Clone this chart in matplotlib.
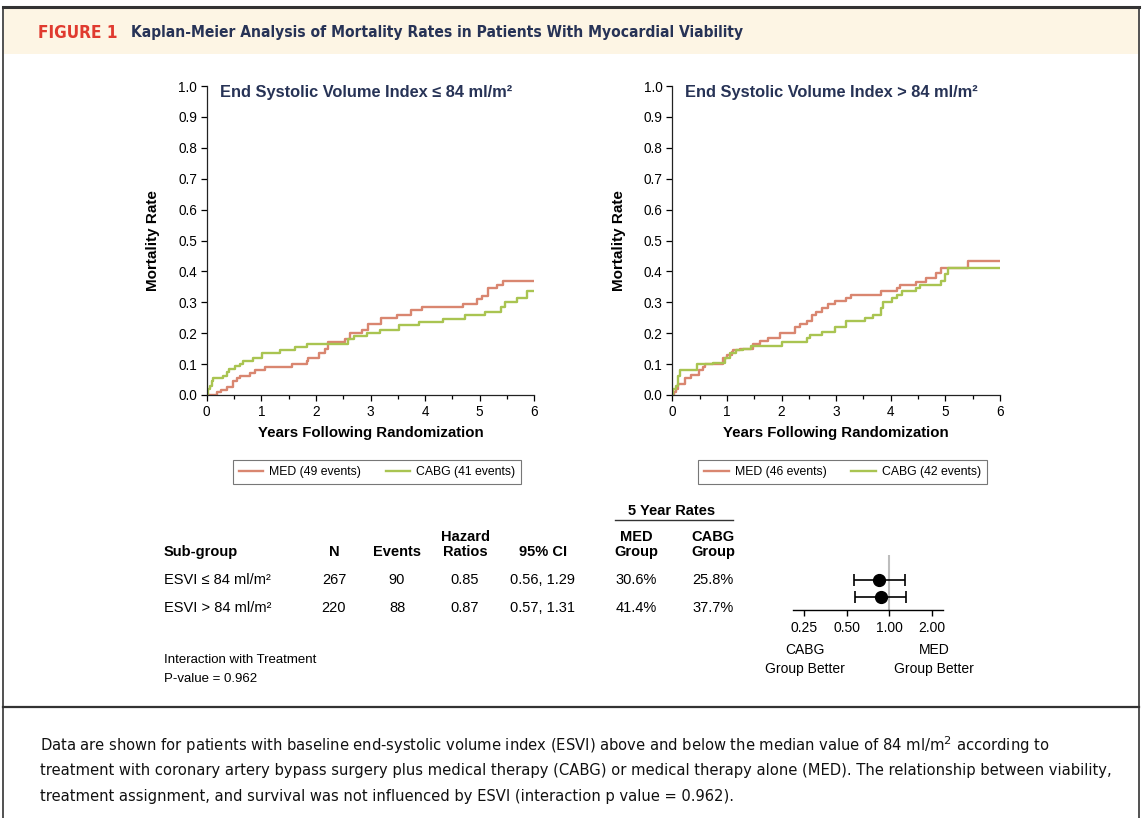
import numpy as np
import matplotlib
matplotlib.use("Agg")
import matplotlib.pyplot as plt
from matplotlib.lines import Line2D
from matplotlib.patches import Rectangle
from matplotlib import font_manager

# dados (tempo em anos, taxa de mortalidade)
left_med_t = [0, 0.18, 0.27, 0.38, 0.49, 0.55, 0.61, 0.79, 0.89, 1.07, 1.56, 1.83, 1.86, 2.05, 2.17,
              2.23, 2.53, 2.63, 2.84, 2.96, 3.19, 3.48, 3.75, 3.94, 4.69, 4.95, 5.04, 5.16, 5.31, 5.42, 6.0]
left_med_y = [0, 0.01, 0.015, 0.025, 0.045, 0.055, 0.06, 0.07, 0.08, 0.09, 0.10, 0.11, 0.12, 0.135, 0.15,
              0.17, 0.18, 0.20, 0.21, 0.23, 0.25, 0.26, 0.275, 0.285, 0.295, 0.31, 0.32, 0.345, 0.355, 0.37, 0.37]

left_cabg_t = [0, 0.03, 0.06, 0.09, 0.12, 0.29, 0.38, 0.40, 0.52, 0.61, 0.67, 0.85, 1.01, 1.34, 1.62,
               1.83, 2.59, 2.69, 2.93, 3.17, 3.53, 3.88, 4.33, 4.73, 5.10, 5.39, 5.46, 5.68, 5.86, 6.0]
left_cabg_y = [0, 0.02, 0.03, 0.045, 0.055, 0.06, 0.075, 0.085, 0.095, 0.10, 0.11, 0.12, 0.135, 0.145, 0.155,
               0.165, 0.18, 0.19, 0.20, 0.21, 0.225, 0.235, 0.245, 0.26, 0.27, 0.285, 0.30, 0.315, 0.335, 0.335]

right_med_t = [0, 0.03, 0.06, 0.11, 0.23, 0.35, 0.49, 0.56, 0.60, 0.93, 1.0, 1.09, 1.12, 1.24, 1.47,
               1.61, 1.76, 1.97, 2.25, 2.34, 2.46, 2.55, 2.64, 2.74, 2.86, 2.98, 3.19, 3.28, 3.83, 4.11,
               4.17, 4.46, 4.65, 4.83, 4.92, 5.42, 6.0]
right_med_y = [0, 0.01, 0.02, 0.035, 0.055, 0.065, 0.08, 0.09, 0.10, 0.12, 0.13, 0.14, 0.145, 0.15, 0.165,
               0.175, 0.185, 0.20, 0.22, 0.23, 0.24, 0.26, 0.27, 0.28, 0.295, 0.305, 0.315, 0.325, 0.335, 0.345,
               0.355, 0.365, 0.38, 0.395, 0.41, 0.435, 0.435]

right_cabg_t = [0, 0.02, 0.06, 0.11, 0.14, 0.45, 0.75, 0.96, 1.06, 1.17, 1.29, 1.45, 2.0, 2.46, 2.52,
                2.74, 2.98, 3.19, 3.53, 3.68, 3.83, 3.86, 4.02, 4.11, 4.2, 4.46, 4.54, 4.92, 4.99, 5.05, 6.0]
right_cabg_y = [0, 0.02, 0.03, 0.06, 0.08, 0.10, 0.105, 0.12, 0.135, 0.145, 0.15, 0.16, 0.17, 0.185, 0.195,
                0.205, 0.22, 0.24, 0.25, 0.26, 0.28, 0.30, 0.315, 0.325, 0.335, 0.345, 0.355, 0.37, 0.39, 0.41, 0.41]

panel_titles = ["End Systolic Volume Index \u2264 84 ml/m\u00b2", "End Systolic Volume Index > 84 ml/m\u00b2"]
med_labels = ["MED (49 events)", "MED (46 events)"]
cabg_labels = ["CABG (41 events)", "CABG (42 events)"]

# tabela
subgroups = ["ESVI \u2264 84 ml/m\u00b2", "ESVI > 84 ml/m\u00b2"]
n_vals = [267, 220]
events = [90, 88]
hr = [0.85, 0.87]
ci_lo = [0.56, 0.57]
ci_hi = [1.29, 1.31]
med_rate = ["30.6%", "41.4%"]
cabg_rate = ["25.8%", "37.7%"]
forest_ticks = [0.25, 0.50, 1.00, 2.00]

# cores
RED = "#d98670"
GREEN = "#a9c451"
NAVY = "#273356"

W, H = 1142, 818
plt.rcParams['font.family'] = ['Liberation Sans', 'DejaVu Sans']

fig = plt.figure(figsize=(W / 100, H / 100), dpi=100)
renderer = fig.canvas.get_renderer()

def fx(x):
    return x / W

def fy(y):
    return 1 - y / H

# ajusta o tamanho da fonte para caber na largura alvo (em pixels)
def fit(t, largura):
    w = t.get_window_extent(renderer).width
    t.set_fontsize(t.get_fontsize() * largura / w)

# existe DejaVu condensada?
has_cond = any(f.name == 'DejaVu Sans' and f.stretch == 'condensed'
               for f in font_manager.fontManager.ttflist)
cond_kw = dict(family='DejaVu Sans', fontstretch='condensed') if has_cond else dict(family='Liberation Sans')

# moldura e cabecalho
fig.add_artist(Rectangle((fx(4), fy(54)), fx(1134), 46 / H, transform=fig.transFigure,
                         facecolor="#fdf5e4", edgecolor="none", zorder=0))
fig.add_artist(Line2D([fx(3), fx(1139)], [fy(7), fy(7)], color="#333333", lw=2.2))
fig.add_artist(Line2D([fx(3), fx(3)], [fy(7), fy(818)], color="#333333", lw=1.2))
fig.add_artist(Line2D([fx(1139), fx(1139)], [fy(7), fy(818)], color="#333333", lw=1.2))
fig.add_artist(Line2D([fx(3), fx(1139)], [fy(707), fy(707)], color="#333333", lw=1.6))

t = fig.text(fx(38), fy(33), "FIGURE 1", color="#e03a2f", fontsize=11, fontweight="bold",
             va="center", **cond_kw)
fit(t, 80)
t = fig.text(fx(131), fy(33), "Kaplan-Meier Analysis of Mortality Rates in Patients With Myocardial Viability",
             color=NAVY, fontsize=11.5, fontweight="bold", va="center", **cond_kw)
fit(t, 619)

# paineis Kaplan-Meier
panels = [
    (206.7, left_med_t, left_med_y, left_cabg_t, left_cabg_y),
    (672.3, right_med_t, right_med_y, right_cabg_t, right_cabg_y),
]
for i, (x0, mt, my, ct, cy) in enumerate(panels):
    ax = fig.add_axes([fx(x0), fy(395), 327.6 / W, 309 / H])
    ax.step(mt, my, where="post", color=RED, lw=1.7, label=med_labels[i])
    ax.step(ct, cy, where="post", color=GREEN, lw=1.7, label=cabg_labels[i])
    ax.set_xlim(0, 6)
    ax.set_ylim(0, 1.0)
    ax.set_xticks(range(0, 7))
    ax.set_xticks(np.arange(0.5, 6, 1), minor=True)
    ax.set_yticks(np.arange(0, 1.01, 0.1))
    ax.set_yticklabels([f"{v:.1f}" for v in np.arange(0, 1.01, 0.1)])
    ax.spines["top"].set_visible(False)
    ax.spines["right"].set_visible(False)
    for s in ["left", "bottom"]:
        ax.spines[s].set_color("#222222")
        ax.spines[s].set_linewidth(0.9)
    ax.tick_params(axis="both", which="major", length=4, width=0.9, labelsize=9.8, pad=3)
    ax.tick_params(axis="x", which="minor", length=3, width=0.9)
    ax.set_ylabel("Mortality Rate", fontsize=11, fontweight="bold", labelpad=13)
    ax.set_xlabel("Years Following Randomization", fontsize=10.8, fontweight="bold", labelpad=5)
    ax.text(0.04, 0.98, panel_titles[i], transform=ax.transAxes, fontsize=11.8, fontweight="bold",
            color=NAVY, va="center", ha="left")
    leg = ax.legend(loc="upper center", bbox_to_anchor=(0.52, -0.19), ncol=2, fontsize=8.8,
                    frameon=True, fancybox=False, edgecolor="#555555", handlelength=2.0,
                    columnspacing=2.0, borderpad=0.5, handletextpad=0.5)
    leg.get_frame().set_linewidth(0.8)

# tabela
FS = 10.5
hdr = dict(fontsize=FS, fontweight="bold", ha="center", va="center")
fig.text(fx(672), fy(511), "5 Year Rates", **hdr)
fig.add_artist(Line2D([fx(615), fx(733)], [fy(520), fy(520)], color="#333333", lw=1.0))
fig.text(fx(164), fy(552), "Sub-group", fontsize=FS, fontweight="bold", ha="left", va="center")
col_x = [334, 397, 465, 543, 636, 713]
fig.text(fx(col_x[0]), fy(552), "N", **hdr)
fig.text(fx(col_x[1]), fy(552), "Events", **hdr)
fig.text(fx(col_x[2]), fy(537), "Hazard", **hdr)
fig.text(fx(col_x[2]), fy(552), "Ratios", **hdr)
fig.text(fx(col_x[3]), fy(552), "95% CI", **hdr)
fig.text(fx(col_x[4]), fy(537), "MED", **hdr)
fig.text(fx(col_x[4]), fy(552), "Group", **hdr)
fig.text(fx(col_x[5]), fy(537), "CABG", **hdr)
fig.text(fx(col_x[5]), fy(552), "Group", **hdr)

row_y = [580, 608]
for j in range(len(subgroups)):
    y = fy(row_y[j])
    fig.text(fx(164), y, subgroups[j], fontsize=FS, ha="left", va="center")
    vals = [str(n_vals[j]), str(events[j]), f"{hr[j]:.2f}", f"{ci_lo[j]:.2f}, {ci_hi[j]:.2f}",
            med_rate[j], cabg_rate[j]]
    for cx, v in zip(col_x, vals):
        fig.text(fx(cx), y, v, fontsize=FS, ha="center", va="center")

fig.text(fx(164), fy(660), "Interaction with Treatment", fontsize=9.5, ha="left", va="center")
fig.text(fx(164), fy(679), "P-value = 0.962", fontsize=9.5, ha="left", va="center")

# forest plot
fax = fig.add_axes([fx(793), fy(610), 150 / W, 55 / H])
fax.set_xscale("log", base=2)
fax.set_xlim(0.209, 2.39)
fax.set_ylim(0.236, 3.47)
fax.axvline(1.0, color="#bdbdbd", lw=1.5, zorder=1)
ypos = [2, 1]
err = [np.array(hr) - np.array(ci_lo), np.array(ci_hi) - np.array(hr)]
fax.errorbar(hr, ypos, xerr=err, fmt="o", color="black", ms=8.5, capsize=4, elinewidth=1.2,
             capthick=1.2, zorder=3)
fax.set_xticks(forest_ticks)
fax.set_xticklabels([f"{v:.2f}" for v in forest_ticks])
fax.minorticks_off()
fax.set_yticks([])
for s in ["left", "right", "top"]:
    fax.spines[s].set_visible(False)
fax.spines["bottom"].set_linewidth(1.0)
fax.tick_params(axis="x", length=4, width=1.0, labelsize=10, pad=4)

for cx, l1 in [(805, "CABG"), (934, "MED")]:
    fig.text(fx(cx), fy(650), l1, fontsize=10, ha="center", va="center")
    fig.text(fx(cx), fy(669), "Group Better", fontsize=10, ha="center", va="center")

# legenda da figura
cap = [
    "Data are shown for patients with baseline end-systolic volume index (ESVI) above and below the median value of 84 ml/m$^2$ according to",
    "treatment with coronary artery bypass surgery plus medical therapy (CABG) or medical therapy alone (MED). The relationship between viability,",
    "treatment assignment, and survival was not influenced by ESVI (interaction p value = 0.962).",
]
caps = []
for k, line in enumerate(cap):
    caps.append(fig.text(fx(40), fy(745 + 26 * k), line, fontsize=11.5, ha="left", va="center",
                         color="#111111", **cond_kw))
fit(caps[1], 1070)
for c in caps:
    c.set_fontsize(caps[1].get_fontsize())

fig.savefig("out.png", dpi=100)
